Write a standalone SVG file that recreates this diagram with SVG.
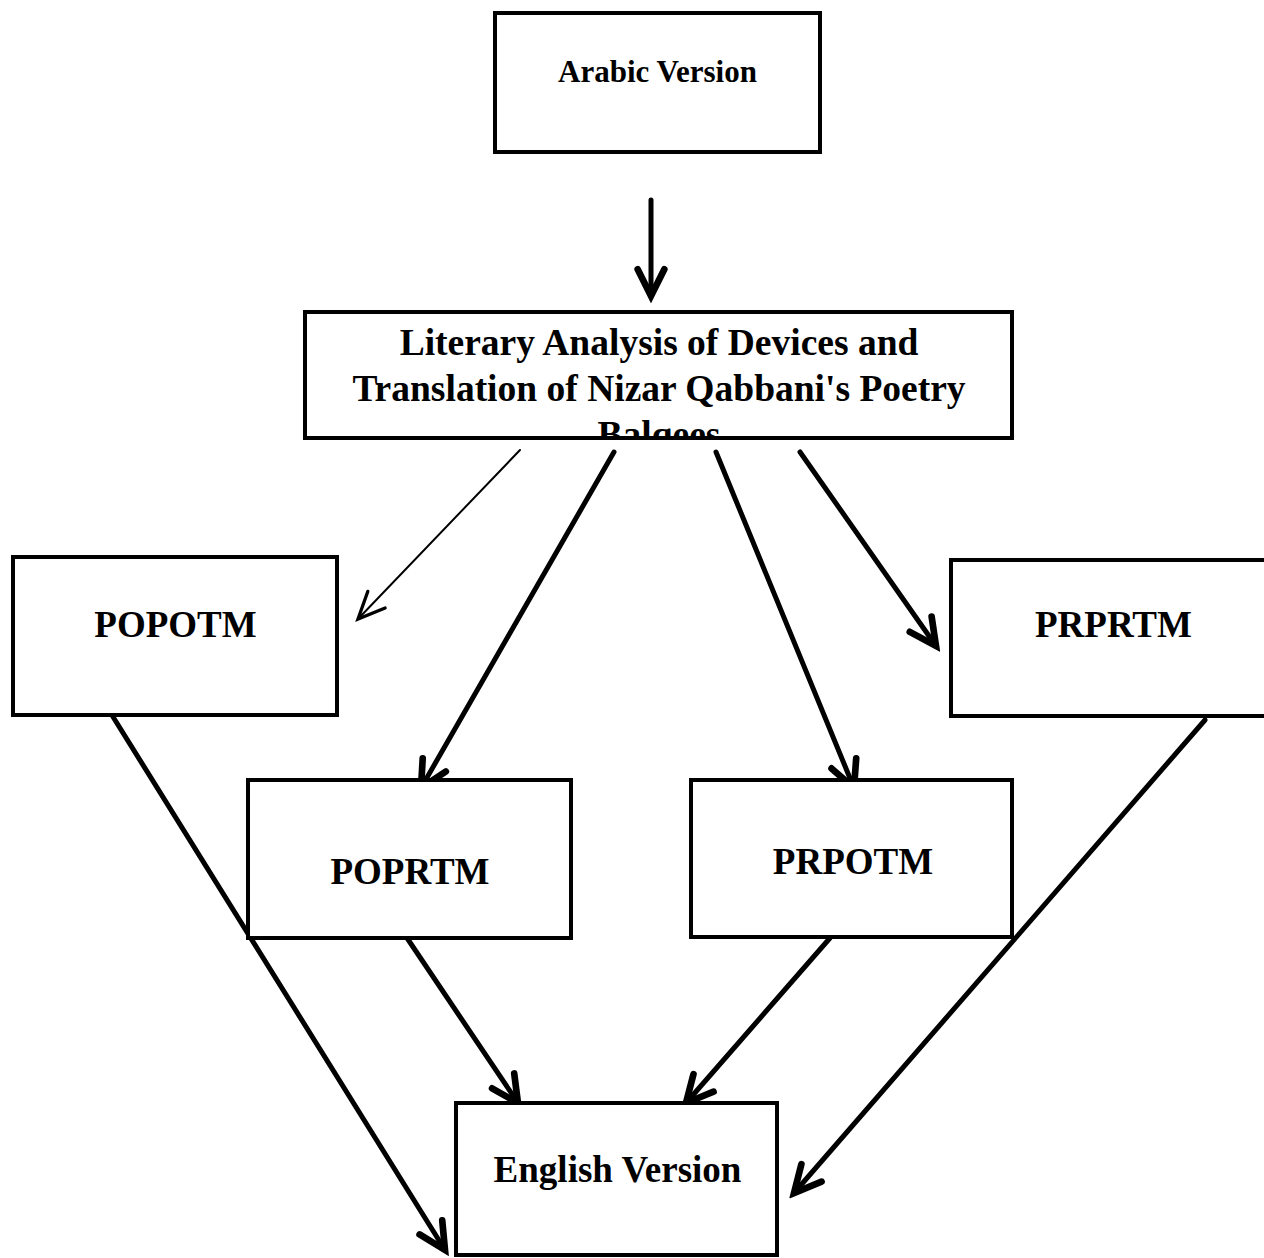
<svg xmlns="http://www.w3.org/2000/svg" width="1264" height="1258" viewBox="0 0 1264 1258">
<style>
.box{fill:#fff;stroke:#000;stroke-width:4}
.t{font-family:"Liberation Serif","Times New Roman",serif;font-weight:bold;fill:#000;text-anchor:middle}
.c{fill:none;stroke:#000;stroke-width:5;stroke-linecap:round}
.thin{fill:none;stroke:#000;stroke-width:2;stroke-linecap:round}
</style>
<defs>
<marker id="ah" markerUnits="userSpaceOnUse" markerWidth="40" markerHeight="40" viewBox="-25 -15 30 30" refX="0" refY="0" orient="auto">
<path d="M-20,-10 L0,0 L-20,10" fill="none" stroke="#000" stroke-width="5" stroke-linecap="round" stroke-linejoin="miter"/>
</marker>
<marker id="ahThin" markerUnits="userSpaceOnUse" markerWidth="40" markerHeight="40" viewBox="-25 -15 30 30" refX="0" refY="0" orient="auto">
<path d="M-20,-9 L0,0 L-20,9" fill="none" stroke="#000" stroke-width="2.5" stroke-linecap="round"/>
</marker>
<clipPath id="midclip"><rect x="307" y="314" width="703" height="122"/></clipPath>
</defs>
<g id="connectors">
<line class="c" x1="651" y1="200" x2="651" y2="296" marker-end="url(#ah)"/>
<line class="thin" x1="520" y1="450" x2="358" y2="619" marker-end="url(#ahThin)"/>
<line class="c" x1="614" y1="452" x2="421" y2="788" marker-end="url(#ah)"/>
<line class="c" x1="716" y1="452" x2="854" y2="788" marker-end="url(#ah)"/>
<line class="c" x1="800" y1="452" x2="936" y2="646" marker-end="url(#ah)"/>
<line class="c" x1="110" y1="712" x2="445" y2="1250" marker-end="url(#ah)"/>
<line class="c" x1="403" y1="932" x2="518" y2="1103" marker-end="url(#ah)"/>
<line class="c" x1="830" y1="938" x2="686" y2="1103" marker-end="url(#ah)"/>
<line class="c" x1="1205" y1="720" x2="794" y2="1193" marker-end="url(#ah)"/>
</g>
<g id="arabic">
<rect class="box" x="495" y="13" width="325" height="139"/>
<text class="t" x="657.5" y="82" font-size="31">Arabic Version</text>
</g>
<g id="analysis">
<rect class="box" x="305" y="312" width="707" height="126" stroke-width="3"/>
<g clip-path="url(#midclip)">
<text class="t" x="659" y="355" font-size="37.5">Literary Analysis of Devices and</text>
<text class="t" x="659" y="401" font-size="37.5">Translation of Nizar Qabbani's Poetry</text>
<text class="t" x="659" y="447" font-size="37.5">Balqees</text>
</g>
</g>
<g id="popotm">
<rect class="box" x="13" y="557" width="324" height="158"/>
<text class="t" x="175.5" y="637" font-size="37">POPOTM</text>
</g>
<g id="poprtm">
<rect class="box" x="248" y="780" width="323" height="158"/>
<text class="t" x="410" y="884" font-size="37">POPRTM</text>
</g>
<g id="prpotm">
<rect class="box" x="691" y="780" width="321" height="157"/>
<text class="t" x="853" y="874" font-size="37">PRPOTM</text>
</g>
<g id="prprtm">
<rect class="box" x="951" y="560" width="315" height="156"/>
<text class="t" x="1113.5" y="637" font-size="37">PRPRTM</text>
</g>
<g id="english">
<rect class="box" x="456" y="1103" width="321" height="152"/>
<text class="t" x="617.5" y="1182" font-size="37">English Version</text>
</g>
</svg>
